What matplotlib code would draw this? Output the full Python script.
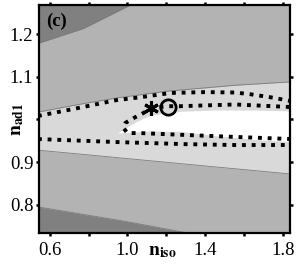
import numpy as np
import matplotlib
matplotlib.use("Agg")
import matplotlib.pyplot as plt

plt.rcParams['font.family'] = ['Liberation Serif', 'DejaVu Serif']
plt.rcParams['mathtext.fontset'] = 'stix'

# ---- data ----
dark_top_x = [0.54, 0.774, 1.015, 1.10]
dark_top_y = [1.178, 1.213, 1.268, 1.29]
dark_bot_x = [0.54, 0.99, 1.308, 1.40]
dark_bot_y = [0.795, 0.761, 0.734, 0.724]

light_top_x = [0.54, 0.75, 0.941, 1.2, 1.554, 1.84]
light_top_y = [1.017, 1.035, 1.050, 1.066, 1.080, 1.088]
light_bot_x = [0.54, 1.19, 1.84]
light_bot_y = [0.928, 0.900, 0.872]

white_x = [0.949, 1.041, 1.118, 1.272, 1.45, 1.65, 1.84]
white_top = [0.968, 0.994, 1.010, 1.019, 1.022, 1.022, 1.020]
white_bot = [0.968, 0.971, 0.973, 0.972, 0.962, 0.953, 0.948]

outer_up_x = [0.54, 0.75, 0.941, 1.067, 1.221, 1.40, 1.554, 1.631, 1.733, 1.84]
outer_up_y = [1.008, 1.027, 1.045, 1.052, 1.062, 1.064, 1.063, 1.059, 1.052, 1.043]
outer_lo_x = [0.54, 0.941, 1.3, 1.554, 1.84]
outer_lo_y = [0.954, 0.947, 0.942, 0.940, 0.940]

inner_up_x = [0.979, 0.990, 1.031, 1.082, 1.123, 1.210, 1.272, 1.554, 1.84]
inner_up_y = [0.980, 0.992, 1.003, 1.015, 1.027, 1.031, 1.031, 1.035, 1.029]
inner_lo_x = [0.979, 1.0, 1.067, 1.272, 1.554, 1.84]
inner_lo_y = [0.980, 0.968, 0.968, 0.964, 0.959, 0.954]

star_pt = (1.123, 1.027)
circle_pt = (1.210, 1.029)

xticks = [0.6, 0.8, 1.0, 1.2, 1.4, 1.6, 1.8]
xticklabels = ['0.6', '', '1.0', '', '1.4', '', '1.8']
yticks = [0.8, 0.9, 1.0, 1.1, 1.2]
yticklabels = ['0.8', '0.9', '', '1.1', '1.2']

# ---- figure ----
fig = plt.figure(figsize=(2.99, 2.65), dpi=100)
ax = fig.add_axes([0.130, 0.121, 0.840, 0.860])
xlim = (0.545, 1.835)
ylim = (0.734, 1.268)

c_dark = '#808080'
c_med = '#b3b3b3'
c_light = '#d9d9d9'
c_edge = '#7c7c7c'

ax.set_facecolor(c_med)
ax.fill_between(dark_top_x, dark_top_y, 1.4, color=c_dark, lw=0)
ax.plot(dark_top_x, dark_top_y, color=c_edge, lw=0.6)
ax.fill_between(dark_bot_x, 0.6, dark_bot_y, color=c_dark, lw=0)
ax.plot(dark_bot_x, dark_bot_y, color=c_edge, lw=0.6)

xs = np.linspace(0.54, 1.84, 200)
lt = np.interp(xs, light_top_x, light_top_y)
lb = np.interp(xs, light_bot_x, light_bot_y)
ax.fill_between(xs, lb, lt, color=c_light, lw=0)
ax.plot(light_top_x, light_top_y, color=c_edge, lw=0.6)
ax.plot(light_bot_x, light_bot_y, color=c_edge, lw=0.6)

ax.fill_between(white_x, white_bot, white_top, color='white', lw=0)

dot = dict(color='black', lw=2.8, linestyle=(0, (1.0, 1.5)), dash_capstyle='butt')
ax.plot(outer_up_x, outer_up_y, **dot)
ax.plot(outer_lo_x, outer_lo_y, **dot)
inner_x = inner_lo_x[::-1] + inner_up_x[1:]
inner_y = inner_lo_y[::-1] + inner_up_y[1:]
ax.plot(inner_x, inner_y, **dot)

ax.plot(*star_pt, marker=(6, 2, 0), ms=10.5, mew=2.2, color='black', zorder=5)
ax.plot(*circle_pt, marker='o', ms=11, mew=2.0, mfc='none', mec='black', zorder=5)

ax.set_xlim(*xlim)
ax.set_ylim(*ylim)
ax.set_xticks(xticks)
ax.set_xticklabels(xticklabels)
ax.set_yticks(yticks)
ax.set_yticklabels(yticklabels)
ax.tick_params(axis='both', which='both', direction='out', length=2.5, width=1.8,
               labelsize=13.5, top=True, right=True, pad=1.5)
ax.tick_params(axis='x', pad=4)
for s in ax.spines.values():
    s.set_linewidth(1.6)

ax.text(-0.085, 0.5, r'$\mathbf{n_{ad1}}$', transform=ax.transAxes, rotation=90,
        ha='center', va='center', fontsize=14)
ax.text(0.49, -0.096, r'$\mathbf{n_{iso}}$', transform=ax.transAxes,
        ha='center', va='baseline', fontsize=14)
ax.text(0.03, 0.965, '(c)', transform=ax.transAxes, ha='left', va='top',
        fontsize=13.5, fontweight='bold')

fig.savefig('out.png', dpi=100)
